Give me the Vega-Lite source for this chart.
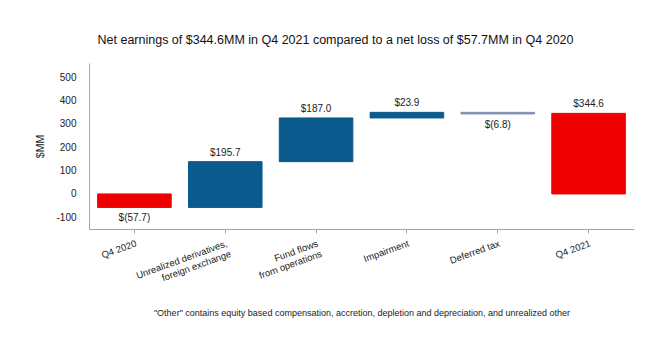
{
  "$schema": "https://vega.github.io/schema/vega-lite/v6.json",
  "autosize": {"type": "none"},
  "width": 545,
  "height": 166,
  "padding": {"left": 89, "top": 63, "right": 32, "bottom": 121},
  "config": {
    "view": {"stroke": null},
    "font": "Liberation Sans, Arial",
    "axis": {"labelFont": "Liberation Sans, Arial", "titleFont": "Liberation Sans, Arial", "labelColor": "#222222", "titleColor": "#222222", "grid": false, "domainColor": "#a6a6a6", "tickColor": "#a6a6a6"},
    "axisY": {"labelOverlap": false}
  },
  "title": {
    "text": "Net earnings of $344.6MM in Q4 2021 compared to a net loss of $57.7MM in Q4 2020",
    "fontSize": 12.5,
    "fontWeight": "normal",
    "color": "#111111",
    "anchor": "middle",
    "dx": -26,
    "offset": 17,
    "font": "Liberation Sans, Arial"
  },
  "data": {
    "values": [
      {"category": "Q4 2020", "start": 0, "end": -57.7, "value": -57.7, "label": "$(57.7)", "kind": "total"},
      {"category": "Unrealized derivatives, foreign exchange", "start": -57.7, "end": 138.0, "value": 195.7, "label": "$195.7", "kind": "increase"},
      {"category": "Fund flows from operations", "start": 138.0, "end": 325.0, "value": 187.0, "label": "$187.0", "kind": "increase"},
      {"category": "Impairment", "start": 325.0, "end": 348.9, "value": 23.9, "label": "$23.9", "kind": "increase"},
      {"category": "Deferred tax", "start": 348.9, "end": 342.1, "value": -6.8, "label": "$(6.8)", "kind": "decrease"},
      {"category": "Q4 2021", "start": 0, "end": 344.6, "value": 344.6, "label": "$344.6", "kind": "total"}
    ]
  },
  "encoding": {
    "x": {
      "field": "category",
      "type": "nominal",
      "sort": null,
      "scale": {"paddingInner": 0.19, "paddingOuter": 0.095},
      "axis": {
        "title": "\"Other\" contains equity based compensation, accretion, depletion and depreciation, and unrealized other",
        "titleFontSize": 9,
        "titleFontWeight": "normal",
        "titleY": 83,
        "titleBaseline": "middle",
        "labelAngle": -20,
        "labelAlign": "right",
        "labelBaseline": "top",
        "labelFontSize": 9.5,
        "labelPadding": 5,
        "labelLineHeight": 11,
        "tickSize": 4,
        "labelOverlap": false,
        "labelExpr": "datum.value == 'Unrealized derivatives, foreign exchange' ? ['Unrealized derivatives,', 'foreign exchange'] : datum.value == 'Fund flows from operations' ? ['Fund flows', 'from operations'] : datum.value"
      }
    },
    "y": {
      "field": "end",
      "type": "quantitative",
      "scale": {"domain": [-150, 560], "nice": false},
      "axis": {"title": "$MM", "titleFontSize": 10.5, "titleFontWeight": "normal", "titlePadding": 10, "values": [-100, 0, 100, 200, 300, 400, 500], "ticks": false, "labelPadding": 13, "labelFontSize": 10, "labelOverlap": false, "labelExpr": "'' + datum.value"}
    }
  },
  "layer": [
    {
      "mark": {"type": "bar", "strokeWidth": 1},
      "encoding": {
        "y2": {"field": "start"},
        "color": {"field": "kind", "type": "nominal", "legend": null, "scale": {"domain": ["total", "increase", "decrease"], "range": ["#ee0000", "#0b5a8e", "#8291b0"]}},
        "stroke": {"field": "kind", "type": "nominal", "legend": null, "scale": {"domain": ["total", "increase", "decrease"], "range": ["#ee0000", "#0b5a8e", "#8291b0"]}}
      }
    },
    {
      "transform": [{"filter": "datum.value >= 0"}],
      "mark": {"type": "text", "baseline": "bottom", "dy": -4, "fontSize": 10, "color": "#222222"},
      "encoding": {
        "text": {"field": "label"}
      }
    },
    {
      "transform": [{"filter": "datum.value < 0"}],
      "mark": {"type": "text", "baseline": "top", "dy": 6, "fontSize": 10, "color": "#222222"},
      "encoding": {
        "text": {"field": "label"}
      }
    }
  ]
}
